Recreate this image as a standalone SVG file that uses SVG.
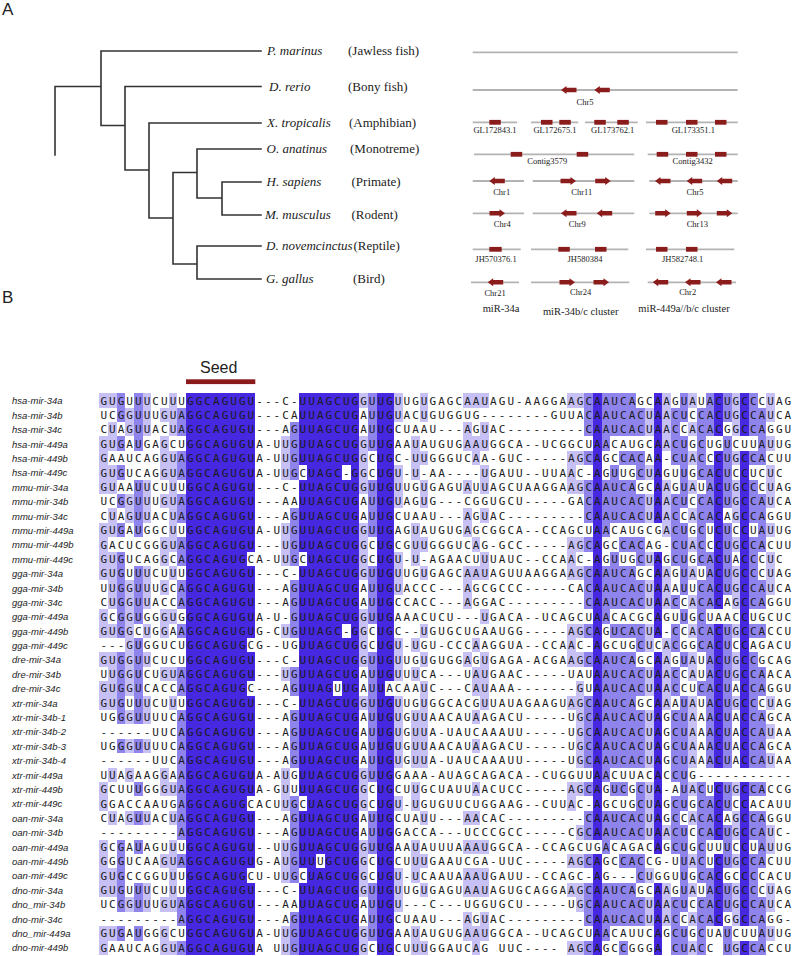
<svg xmlns="http://www.w3.org/2000/svg" xmlns:xlink="http://www.w3.org/1999/xlink" width="793" height="956" viewBox="0 0 793 956">
<style>
.pl{font-family:"Liberation Sans",Arial,sans-serif;font-size:17px;fill:#222}
.t{font-family:"Liberation Serif","Times New Roman",serif;fill:#222}
.sp{font-style:italic;font-size:13px}
.gr{font-size:13px}
.gl{font-size:8.5px;text-anchor:middle}
.bl{font-size:10.5px;text-anchor:middle}
.trk{stroke:#b3b3b3;stroke-width:1.8;fill:none}
.red{fill:#8b1c1c}
.br{stroke:#333;stroke-width:1.6;fill:none;stroke-linecap:square}
.lab{font-family:"Liberation Sans",Arial,sans-serif;font-style:italic;font-size:9.5px;fill:#222}
.seq{font-family:"DejaVu Sans Mono",monospace;font-size:11px;letter-spacing:2.038px;fill:#1c1c1c}
.D{fill:#4528df}.M{fill:#8f84ec}.L{fill:#c6c0f5}
</style>
<defs>
<path id="al" class="red" d="M0 0L5.5-4V-2.3H15.5V2.3H5.5V4Z"/>
<path id="ar" class="red" d="M0 0L-5.5-4V-2.3H-15.5V2.3H-5.5V4Z"/>
</defs>
<rect width="793" height="956" fill="#fff"/>
<text class="pl" x="2" y="15">A</text>
<text class="pl" x="2" y="303">B</text>

<g id="tree-connectors">
<path class="br" d="M55 155V86.5H101M101 51V125.5M101 51H261M101 125.5H125M125 86.5V170M125 86.5H261M125 170H149M149 123V218M149 123H261M149 218H173M173 172.5V264M173 172.5H197M197 149V198M197 149H261M197 198H222M222 182V215M222 182H261M222 215H261M173 264H197M197 246V279M197 246H261M197 279H261"/>
</g>
<g id="sp-pmarinus"><text class="t sp" x="267" y="55">P. marinus</text><text class="t gr" x="348" y="55">(Jawless fish)</text></g>
<g id="sp-drerio"><text class="t sp" x="269" y="90.5">D. rerio</text><text class="t gr" x="348" y="90.5">(Bony fish)</text></g>
<g id="sp-xtropicalis"><text class="t sp" x="267" y="127">X. tropicalis</text><text class="t gr" x="349" y="127">(Amphibian)</text></g>
<g id="sp-oanatinus"><text class="t sp" x="266.5" y="153">O. anatinus</text><text class="t gr" x="350" y="153">(Monotreme)</text></g>
<g id="sp-hsapiens"><text class="t sp" x="266.5" y="186">H. sapiens</text><text class="t gr" x="351.5" y="186">(Primate)</text></g>
<g id="sp-mmusculus"><text class="t sp" x="265" y="219">M. musculus</text><text class="t gr" x="351.5" y="219">(Rodent)</text></g>
<g id="sp-dnovemcinctus"><text class="t sp" x="266" y="250">D. novemcinctus</text><text class="t gr" x="353.5" y="250">(Reptile)</text></g>
<g id="sp-ggallus"><text class="t sp" x="266" y="283">G. gallus</text><text class="t gr" x="353" y="283">(Bird)</text></g>

<g id="track-pmarinus"><path class="trk" d="M472.7 52.3H737.7"/></g>
<g id="track-drerio"><path class="trk" d="M472.7 90H737.7"/>
<use href="#al" x="561" y="90"/><use href="#al" x="594.3" y="90"/>
<text class="t gl" x="585" y="104.7">Chr5</text></g>
<g id="track-xtropicalis"><path class="trk" d="M472.7 122.3H517.3M531 122.3H578.3M585 122.3H637.7M646 122.3H737.7"/>
<rect class="red" x="489.3" y="119.9" width="11.5" height="4.8"/><rect class="red" x="541" y="119.9" width="11.5" height="4.8"/><rect class="red" x="559.3" y="119.9" width="11.5" height="4.8"/><rect class="red" x="594.3" y="119.9" width="11.5" height="4.8"/><rect class="red" x="617.3" y="119.9" width="11.5" height="4.8"/><rect class="red" x="656" y="119.9" width="11.5" height="4.8"/><rect class="red" x="686" y="119.9" width="11.5" height="4.8"/><rect class="red" x="715" y="119.9" width="11.5" height="4.8"/>
<text class="t gl" x="495" y="133">GL172843.1</text><text class="t gl" x="555" y="133">GL172675.1</text><text class="t gl" x="612.7" y="133">GL173762.1</text><text class="t gl" x="693.3" y="133">GL173351.1</text></g>
<g id="track-oanatinus"><path class="trk" d="M474 154.3H634.3M647.7 154.3H737.7"/>
<rect class="red" x="510.7" y="151.9" width="11.5" height="4.8"/><rect class="red" x="576.7" y="151.9" width="11.5" height="4.8"/><rect class="red" x="656.7" y="151.9" width="11.5" height="4.8"/><rect class="red" x="686" y="151.9" width="11.5" height="4.8"/><rect class="red" x="715" y="151.9" width="11.5" height="4.8"/>
<text class="t gl" x="547.3" y="164">Contig3579</text><text class="t gl" x="692.7" y="164">Contig3432</text></g>
<g id="track-hsapiens"><path class="trk" d="M472.7 181H524M532.7 181H634.3M649.3 181H737.7"/>
<use href="#al" x="489.3" y="181"/><use href="#ar" x="576" y="181"/><use href="#ar" x="610.7" y="181"/><use href="#al" x="655" y="181"/><use href="#al" x="686.7" y="181"/><use href="#al" x="716.7" y="181"/>
<text class="t gl" x="501.7" y="194.7">Chr1</text><text class="t gl" x="581.7" y="194.7">Chr11</text><text class="t gl" x="695" y="194.7">Chr5</text></g>
<g id="track-mmusculus"><path class="trk" d="M472.7 213.3H524M532.7 213.3H634.3M649.3 213.3H737.7"/>
<use href="#ar" x="505" y="213.3"/><use href="#al" x="561" y="213.3"/><use href="#al" x="596.7" y="213.3"/><use href="#ar" x="670.7" y="213.3"/><use href="#ar" x="702.3" y="213.3"/><use href="#ar" x="732.3" y="213.3"/>
<text class="t gl" x="502.3" y="227">Chr4</text><text class="t gl" x="577.3" y="227">Chr9</text><text class="t gl" x="697.3" y="227">Chr13</text></g>
<g id="track-dnovemcinctus"><path class="trk" d="M472.7 249.3H520.7M531 249.3H628.3M646 249.3H734.3"/>
<rect class="red" x="489.3" y="246.9" width="12.4" height="4.8"/><rect class="red" x="558.3" y="246.9" width="11.5" height="4.8"/><rect class="red" x="595" y="246.9" width="11.5" height="4.8"/><rect class="red" x="656" y="246.9" width="11.5" height="4.8"/><rect class="red" x="686" y="246.9" width="11.5" height="4.8"/>
<text class="t gl" x="496" y="262.3">JH570376.1</text><text class="t gl" x="585" y="262.3">JH580384</text><text class="t gl" x="682.7" y="262.3">JH582748.1</text></g>
<g id="track-ggallus"><path class="trk" d="M471 282.3H519M531 282.3H629.3M647.7 282.3H736"/>
<use href="#al" x="487.7" y="282.3"/><use href="#ar" x="575" y="282.3"/><use href="#ar" x="609" y="282.3"/><use href="#al" x="652.7" y="282.3"/><use href="#al" x="685" y="282.3"/><use href="#al" x="716" y="282.3"/>
<text class="t gl" x="495" y="296.3">Chr21</text><text class="t gl" x="580.7" y="295">Chr24</text><text class="t gl" x="687.7" y="294.7">Chr2</text></g>
<g id="cluster-labels">
<text class="t bl" x="501" y="311.5">miR-34a</text><text class="t bl" x="580.7" y="314.5">miR-34b/c cluster</text><text class="t bl" x="684" y="311.5">miR-449a//b/c cluster</text></g>

<g id="seed"><text x="200" y="373.3" font-family="Liberation Sans, Arial, sans-serif" font-size="16" fill="#222">Seed</text>
<rect x="186" y="379.3" width="69.3" height="4.8" fill="#8b1a1a"/></g>

<g id="shading" transform="translate(99.4 393.3) scale(8.66 14.4)" shape-rendering="crispEdges">
<path class="L" d="M0 0h1v1h-1zM0 3h1v4h-1zM0 9h1v4h-1zM0 15h1v2h-1zM0 18h1v1h-1zM0 20h1v2h-1zM0 27h1v2h-1zM0 31h1v4h-1zM0 37h1v2h-1z
M1 0h1v1h-1zM1 2h1v2h-1zM1 5h1v2h-1zM1 8h1v2h-1zM1 11h1v4h-1zM1 16h1v1h-1zM1 18h1v4h-1zM1 26h1v1h-1zM1 29h1v1h-1zM1 33h1v2h-1zM1 37h1v1h-1z
M3 1h1v2h-1zM3 7h1v2h-1zM3 13h1v8h-1zM3 22h1v1h-1zM3 24h1v1h-1zM3 26h1v1h-1zM3 29h1v1h-1zM3 35h1v1h-1z
M5 0h1v3h-1zM5 6h1v3h-1zM5 12h1v3h-1zM5 16h1v1h-1zM5 18h1v1h-1zM5 21h1v2h-1zM5 24h1v1h-1zM5 29h1v1h-1zM5 34h1v2h-1z
M7 1h1v1h-1zM7 3h1v3h-1zM7 7h1v1h-1zM7 10h1v2h-1zM7 13h1v1h-1zM7 15h1v2h-1zM7 19h1v1h-1zM7 26h1v2h-1zM7 32h1v1h-1zM7 35h1v1h-1zM7 37h1v2h-1z
M8 0h1v3h-1zM8 4h1v7h-1zM8 12h1v1h-1zM8 15h1v1h-1zM8 19h1v1h-1zM8 21h1v1h-1zM8 27h1v1h-1zM8 29h1v1h-1zM8 31h1v5h-1zM8 38h1v1h-1z
M21 3h1v3h-1zM21 9h1v3h-1zM21 16h1v1h-1zM21 19h1v1h-1zM21 26h1v3h-1zM21 31h1v3h-1zM21 37h1v2h-1z
M30 0h1v1h-1zM30 3h1v4h-1zM30 9h1v4h-1zM30 15h1v4h-1zM30 21h1v1h-1zM30 26h1v3h-1zM30 31h1v4h-1zM30 37h1v2h-1z
M34 0h1v2h-1zM34 5h1v3h-1zM34 11h1v3h-1zM34 17h1v3h-1zM34 21h1v5h-1zM34 28h1v1h-1zM34 33h1v3h-1z
M36 3h1v3h-1zM36 9h1v3h-1zM36 17h1v1h-1zM36 19h1v1h-1zM36 22h1v4h-1zM36 27h1v2h-1zM36 31h1v3h-1zM36 37h1v2h-1z
M37 0h1v2h-1zM37 4h1v1h-1zM37 6h1v2h-1zM37 10h1v1h-1zM37 12h1v1h-1zM37 16h1v1h-1zM37 18h1v1h-1zM37 20h1v6h-1zM37 29h1v1h-1zM37 32h1v1h-1zM37 34h1v1h-1zM37 38h1v1h-1z
M42 0h1v1h-1zM42 2h1v2h-1zM42 6h1v1h-1zM42 8h1v2h-1zM42 12h1v3h-1zM42 18h1v1h-1zM42 29h1v1h-1zM42 31h1v1h-1zM42 33h1v2h-1zM42 36h1v2h-1z
M43 0h1v1h-1zM43 3h1v2h-1zM43 10h1v1h-1zM43 12h1v1h-1zM43 17h1v1h-1zM43 19h1v2h-1zM43 22h1v1h-1zM43 24h1v1h-1zM43 27h1v1h-1zM43 29h1v1h-1zM43 31h1v1h-1zM43 33h1v2h-1zM43 37h1v2h-1z
M44 0h1v1h-1zM44 2h1v2h-1zM44 5h1v2h-1zM44 8h1v1h-1zM44 11h1v2h-1zM44 15h1v1h-1zM44 18h1v4h-1zM44 31h1v1h-1zM44 33h1v2h-1zM44 36h1v2h-1z
M54 0h1v1h-1zM54 4h1v3h-1zM54 10h1v3h-1zM54 16h1v3h-1zM54 21h1v1h-1zM54 27h1v2h-1zM54 32h1v1h-1zM54 34h1v1h-1zM54 38h1v1h-1z
M55 0h1v1h-1zM55 4h1v1h-1zM55 6h1v1h-1zM55 10h1v1h-1zM55 12h1v1h-1zM55 16h1v1h-1zM55 18h1v1h-1zM55 20h1v6h-1zM55 27h1v1h-1zM55 30h1v1h-1zM55 32h1v1h-1zM55 34h1v2h-1zM55 38h1v1h-1z
M63 1h1v2h-1zM63 5h1v1h-1zM63 7h1v2h-1zM63 11h1v1h-1zM63 13h1v2h-1zM63 16h1v2h-1zM63 19h1v2h-1zM63 22h1v4h-1zM63 27h1v4h-1zM63 33h1v1h-1zM63 35h1v2h-1z
M65 0h1v4h-1zM65 6h1v4h-1zM65 12h1v3h-1zM65 17h1v5h-1zM65 30h1v1h-1zM65 34h1v3h-1z
M68 0h1v1h-1zM68 2h1v1h-1zM68 4h1v1h-1zM68 6h1v1h-1zM68 8h1v1h-1zM68 10h1v1h-1zM68 12h1v1h-1zM68 14h1v1h-1zM68 16h1v1h-1zM68 18h1v2h-1zM68 21h1v5h-1zM68 27h1v1h-1zM68 29h1v1h-1zM68 32h1v1h-1zM68 34h1v1h-1zM68 36h1v1h-1zM68 38h1v1h-1z
M73 0h1v3h-1zM73 4h1v1h-1zM73 6h1v3h-1zM73 10h1v1h-1zM73 12h1v3h-1zM73 16h1v1h-1zM73 18h1v2h-1zM73 21h1v1h-1zM73 27h1v1h-1zM73 29h1v2h-1zM73 32h1v1h-1zM73 34h1v3h-1zM73 38h1v1h-1z
M77 0h1v2h-1zM77 3h1v1h-1zM77 5h1v3h-1zM77 9h1v1h-1zM77 11h1v3h-1zM77 21h1v1h-1zM77 23h1v1h-1zM77 25h1v1h-1zM77 30h1v2h-1zM77 34h1v2h-1zM77 37h1v1h-1z"/>
<path class="M" d="M2 0h1v2h-1zM2 3h1v1h-1zM2 5h1v1h-1zM2 7h1v1h-1zM2 9h1v1h-1zM2 11h1v6h-1zM2 18h1v5h-1zM2 24h1v1h-1zM2 31h1v5h-1zM2 37h1v1h-1z
M4 0h1v4h-1zM4 6h1v4h-1zM4 12h1v4h-1zM4 17h1v6h-1zM4 24h1v1h-1zM4 27h1v1h-1zM4 29h1v1h-1zM4 31h1v1h-1zM4 34h1v2h-1zM4 37h1v1h-1z
M9 1h1v2h-1zM9 4h1v2h-1zM9 7h1v2h-1zM9 10h1v2h-1zM9 13h1v2h-1zM9 16h1v1h-1zM9 19h1v2h-1zM9 22h1v9h-1zM9 32h1v1h-1zM9 35h1v2h-1zM9 38h1v1h-1z
M22 2h1v4h-1zM22 8h1v4h-1zM22 13h1v4h-1zM22 19h1v2h-1zM22 22h1v4h-1zM22 28h1v6h-1zM22 36h1v3h-1z
M31 0h1v4h-1zM31 6h1v4h-1zM31 12h1v4h-1zM31 18h1v9h-1zM31 29h1v3h-1zM31 34h1v4h-1z
M56 0h1v3h-1zM56 4h1v1h-1zM56 6h1v3h-1zM56 10h1v1h-1zM56 12h1v3h-1zM56 16h1v1h-1zM56 18h1v1h-1zM56 21h1v5h-1zM56 27h1v1h-1zM56 29h1v2h-1zM56 32h1v1h-1zM56 34h1v3h-1zM56 38h1v1h-1z
M58 0h1v4h-1zM58 6h1v4h-1zM58 12h1v4h-1zM58 18h1v9h-1zM58 29h1v3h-1zM58 34h1v4h-1z
M59 0h1v3h-1zM59 5h1v4h-1zM59 11h1v4h-1zM59 16h1v1h-1zM59 18h1v8h-1zM59 27h1v1h-1zM59 29h1v2h-1zM59 34h1v3h-1z
M60 0h1v3h-1zM60 4h1v1h-1zM60 6h1v3h-1zM60 10h1v1h-1zM60 12h1v3h-1zM60 16h1v1h-1zM60 18h1v8h-1zM60 27h1v1h-1zM60 29h1v2h-1zM60 32h1v1h-1zM60 34h1v3h-1zM60 38h1v1h-1z
M61 0h1v3h-1zM61 4h1v1h-1zM61 6h1v3h-1zM61 10h1v1h-1zM61 12h1v3h-1zM61 16h1v1h-1zM61 18h1v8h-1zM61 29h1v2h-1zM61 32h1v1h-1zM61 34h1v3h-1z
M62 1h1v2h-1zM62 4h1v2h-1zM62 7h1v2h-1zM62 10h1v2h-1zM62 13h1v2h-1zM62 16h1v2h-1zM62 19h1v2h-1zM62 22h1v4h-1zM62 27h1v4h-1zM62 32h1v2h-1zM62 35h1v2h-1z
M66 1h1v4h-1zM66 7h1v5h-1zM66 14h1v1h-1zM66 16h1v2h-1zM66 19h1v2h-1zM66 22h1v5h-1zM66 28h1v4h-1zM66 35h1v4h-1z
M67 0h1v2h-1zM67 3h1v5h-1zM67 9h1v5h-1zM67 15h1v1h-1zM67 18h1v1h-1zM67 21h1v8h-1zM67 30h1v6h-1zM67 37h1v2h-1z
M69 1h1v5h-1zM69 7h1v5h-1zM69 13h1v5h-1zM69 20h1v1h-1zM69 27h1v7h-1zM69 35h1v4h-1z
M70 0h1v3h-1zM70 5h1v4h-1zM70 11h1v4h-1zM70 16h1v10h-1zM70 28h1v3h-1zM70 33h1v4h-1z
M72 0h1v2h-1zM72 3h1v5h-1zM72 9h1v5h-1zM72 16h1v10h-1zM72 27h1v2h-1zM72 30h1v3h-1zM72 34h1v2h-1zM72 37h1v2h-1z
M75 0h1v3h-1zM75 4h1v1h-1zM75 6h1v3h-1zM75 10h1v5h-1zM75 16h1v1h-1zM75 18h1v8h-1zM75 27h1v1h-1zM75 29h1v2h-1zM75 32h1v5h-1zM75 38h1v1h-1z
M76 1h1v4h-1zM76 7h1v4h-1zM76 13h1v2h-1zM76 16h1v1h-1zM76 19h1v2h-1zM76 22h1v4h-1zM76 27h1v1h-1zM76 29h1v4h-1zM76 35h1v4h-1z"/>
<path class="D" d="M10 0h7v39h-7z
M17 0h1v11h-1zM17 12h1v5h-1zM17 18h1v2h-1zM17 21h1v7h-1zM17 29h1v4h-1zM17 34h1v5h-1z
M23 0h1v5h-1zM23 6h1v5h-1zM23 12h1v16h-1zM23 29h1v4h-1zM23 34h1v5h-1z
M24 0h1v39h-1zM25 0h1v32h-1zM25 33h1v6h-1zM26 0h1v39h-1zM27 0h1v20h-1zM27 21h1v18h-1z
M28 0h1v5h-1zM28 6h1v10h-1zM28 17h1v22h-1zM29 0h1v39h-1zM32 0h1v39h-1zM33 0h1v20h-1zM33 21h1v18h-1z
M57 0h1v31h-1zM57 32h1v7h-1z
M64 0h1v9h-1zM64 11h1v6h-1zM64 18h1v14h-1zM64 34h1v5h-1z
M71 0h1v3h-1zM71 4h1v11h-1zM71 16h1v10h-1zM71 27h1v4h-1zM71 32h1v5h-1z
M74 0h1v3h-1zM74 4h1v22h-1zM74 27h1v10h-1zM74 38h1v1h-1z"/>
</g>

<g id="row-labels">
<text class="lab" x="12" y="404.3">hsa-mir-34a<tspan x="12" dy="14.4">hsa-mir-34b</tspan><tspan x="12" dy="14.4">hsa-mir-34c</tspan><tspan x="12" dy="14.4">hsa-mir-449a</tspan><tspan x="12" dy="14.4">hsa-mir-449b</tspan><tspan x="12" dy="14.4">hsa-mir-449c</tspan><tspan x="12" dy="14.4">mmu-mir-34a</tspan><tspan x="12" dy="14.4">mmu-mir-34b</tspan><tspan x="12" dy="14.4">mmu-mir-34c</tspan><tspan x="12" dy="14.4">mmu-mir-449a</tspan><tspan x="12" dy="14.4">mmu-mir-449b</tspan><tspan x="12" dy="14.4">mmu-mir-449c</tspan><tspan x="12" dy="14.4">gga-mir-34a</tspan><tspan x="12" dy="14.4">gga-mir-34b</tspan><tspan x="12" dy="14.4">gga-mir-34c</tspan><tspan x="12" dy="14.4">gga-mir-449a</tspan><tspan x="12" dy="14.4">gga-mir-449b</tspan><tspan x="12" dy="14.4">gga-mir-449c</tspan><tspan x="12" dy="14.4">dre-mir-34a</tspan><tspan x="12" dy="14.4">dre-mir-34b</tspan><tspan x="12" dy="14.4">dre-mir-34c</tspan><tspan x="12" dy="14.4">xtr-mir-34a</tspan><tspan x="12" dy="14.4">xtr-mir-34b-1</tspan><tspan x="12" dy="14.4">xtr-mir-34b-2</tspan><tspan x="12" dy="14.4">xtr-mir-34b-3</tspan><tspan x="12" dy="14.4">xtr-mir-34b-4</tspan><tspan x="12" dy="14.4">xtr-mir-449a</tspan><tspan x="12" dy="14.4">xtr-mir-449b</tspan><tspan x="12" dy="14.4">xtr-mir-449c</tspan><tspan x="12" dy="14.4">oan-mir-34a</tspan><tspan x="12" dy="14.4">oan-mir-34b</tspan><tspan x="12" dy="14.4">oan-mir-449a</tspan><tspan x="12" dy="14.4">oan-mir-449b</tspan><tspan x="12" dy="14.4">oan-mir-449c</tspan><tspan x="12" dy="14.4">dno-mir-34a</tspan><tspan x="12" dy="14.4">dno_mir-34b</tspan><tspan x="12" dy="14.4">dno-mir-34c</tspan><tspan x="12" dy="14.4">dno_mir-449a</tspan><tspan x="12" dy="14.4">dno-mir-449b</tspan></text>
</g>

<g id="sequences">
<text class="seq" x="100.4" y="404.5">GUGUUUCUUUGGCAGUGU---C-UUAGCUGGUUGUUGUGAGCAAUAGU-AAGGAAGCAAUCAGCAAGUAUACUGCCCUAG<tspan x="100.4" dy="14.4">UCGGUUUGUAGGCAGUGU---CAUUAGCUGAUUGUACUGUGGUG--------GUUACAAUCACUAACUCCACUGCCAUCA</tspan><tspan x="100.4" dy="14.4">CUAGUUACUAGGCAGUGU---AGUUAGCUGAUUGCUAAU---AGUAC---------CAAUCACUAACCACACGGCCAGGU</tspan><tspan x="100.4" dy="14.4">GUGAUGAGCUGGCAGUGUA-UUGUUAGCUGGUUGAAUAUGUGAAUGGCA--UCGGCUAACAUGCAACUGCUGUCUUAUUG</tspan><tspan x="100.4" dy="14.4">GAAUCAGGUAGGCAGUGUA-UUGUUAGCUGGCUGC-UUGGGUCAA-GUC-----AGCAGCCACAA-CUACCCUGCCACUU</tspan><tspan x="100.4" dy="14.4">GUGUCAGGUAGGCAGUGUA-UUGCUAGC-GGCUGU-U-AA----UGAUU--UUAAC-AGUUGCUAGUUGCACUCCUCUC</tspan><tspan x="100.4" dy="14.4">GUAAUUCUUUGGCAGUGU---C-UUAGCUGGUUGUUGUGAGUAUUAGCUAAGGAAGCAAUCAGCAAGUAUACUGCCCUAG</tspan><tspan x="100.4" dy="14.4">UCGGUUUGUAGGCAGUGU---AAUUAGCUGAUUGUAGUG---CGGUGCU-----GACAAUCACUAACUCCACUGCCAUCA</tspan><tspan x="100.4" dy="14.4">CUAGUUACUAGGCAGUGU---AGUUAGCUGAUUGCUAAU---AGUAC---------CAAUCACUAACCACACAGCCAGGU</tspan><tspan x="100.4" dy="14.4">GUGAUGGCUUGGCAGUGUA-UUGUUAGCUGGUUGAGUAUGUGAGCGGCA--CCAGCUAACAUGCGACUGCUCUCCUAUUG</tspan><tspan x="100.4" dy="14.4">GACUCGGGUAGGCAGUGU---UGUUAGCUGGCUGCGUUGGGUCAG-GCC-----AGCAGCCACAG-CUACCCUGCCACUU</tspan><tspan x="100.4" dy="14.4">GUGUCAGGCAGGCAGUGCA-UUGCUAGCUGGCUGU-U-AGAACUUUAUC--CCAAC-AGUUGCUAGCUGCACUACCCUC</tspan><tspan x="100.4" dy="14.4">GUGUUUCUUUGGCAGUGU---C-UUAGCUGGUUGUUGUGAGCAAUAGUUAAGGAAGCAAUCAGCAAGUAUACUGCCCUAG</tspan><tspan x="100.4" dy="14.4">UUGGUUUGCAGGCAGUGU---AGUUAGCUGAUUGUACCC---AGCGCCC-----CACAAUCACUAAAUUCACUGCCAUCA</tspan><tspan x="100.4" dy="14.4">CUGGUUACCAGGCAGUGU---AGUUAGCUGAUUGCCACC---AGGAC---------CAAUCACUAACCACACAGCCAGGU</tspan><tspan x="100.4" dy="14.4">GCGGUGGGUGGGCAGUGUA-U-GUUAGCUGGUUGAAACUCU---UGACA--UCAGCUAACACGCAGUUGCUAACCUGCUC</tspan><tspan x="100.4" dy="14.4">GUGGCUGGAAGGCAGUGUG-CUGUUAGC-GGCUGC--UGUGCUGAAUGG-----AGCAGUCACUA-CCACACUGCCACCU</tspan><tspan x="100.4" dy="14.4">---GUGGUCUGGCAGUGCG--UGUUAGCUGGCUGU-UGU-CCCAAGGUA--CCAAC-AGCUGCUCACGGCACUCCAGACU</tspan><tspan x="100.4" dy="14.4">GUGGUUCUCUGGCAGUGU---C-UUAGCUGGUUGUUGUGUGGAGUGAGA-ACGAAGCAAUCAGCAAGUAUACUGCCGCAG</tspan><tspan x="100.4" dy="14.4">UUGGUCUGUAGGCAGUGU---UGUUAGCUGAUUGUUUCA---UAUGAAC-----UAUAAUCACUAACCAUACUGCCAACA</tspan><tspan x="100.4" dy="14.4">GUGGUCACCAGGCAGUGC---AGUUAGUUGAUUACAAUC---CAUAAA-------GUAAUCACUAACCUCACUACCAGGU</tspan><tspan x="100.4" dy="14.4">GUGUUUCUUUGGCAGUGU---C-UUAGCUGGUUGUUGUGGCACGUUAUAGAAGUAGCAAUCAGCAAAUAUACUGCCCUAG</tspan><tspan x="100.4" dy="14.4">UGGGUUUUCAGGCAGUGU---AGUUAGCUGAUUGUGUUAACAUAAGACU-----UGCAAUCACUAGCUAAACUACCAGCA</tspan><tspan x="100.4" dy="14.4">------UUCAGGCAGUGU---AGUUAGCUGAUUGUGUUA-UAUCAAAUU-----UGCAAUCACUAGCUAAACUACCAUAA</tspan><tspan x="100.4" dy="14.4">UGGGUUUUCAGGCAGUGU---AGUUAGCUGAUUGUGUUAACAUAAGACU-----UGCAAUCACUAGCUAAACUACCAGCA</tspan><tspan x="100.4" dy="14.4">------UUCAGGCAGUGU---AGUUAGCUGAUUGUGUUA-UAUCAAAUU-----UGCAAUCACUAGCUAAACUACCAUAA</tspan><tspan x="100.4" dy="14.4">UUAGAAGGAAGGCAGUGUA-AUGUUAGCUGGUUGGAAA-AUAGCAGACA--CUGGUUAACUUACACCUG-----------</tspan><tspan x="100.4" dy="14.4">GCUUUGGGUAGGCAGUGUA-GUUUUAGCUGGCUGCUUGCUAUUAACUCC-----AGCAGUCGCUA-AUACUCUGCCACCG</tspan><tspan x="100.4" dy="14.4">GGACCAAUGAGGCAGUGCACUUGCUAGCUGGCUGU-UGUGUUCUGGAAG--CUUAC-AGCUGCUAGCUGCACUCCACAUU</tspan><tspan x="100.4" dy="14.4">CUAGUUACUAGGCAGUGU---AGUUAGCUGAUUGCUAUU---AACAC---------CAAUCACUAGCCACACAGCCAGGU</tspan><tspan x="100.4" dy="14.4">---------AGGCAGUGU---AGUUAGCUGAUUGGACCA---UCCCGCC-----CGCAAUCACUAACUCCACUGCCAUC-</tspan><tspan x="100.4" dy="14.4">GCGAUAGUUUGGCAGUGU--UUGUUAGCUGGUUGAAUAUUUAAAUGGCA--CCAGCUGACAGACAGCUGCUUUCCUAUUG</tspan><tspan x="100.4" dy="14.4">GGGUCAAGUAGGCAGUGUG-AUGUUUGCUGGCUGCUUUGAAUCGA-UUC-----AGCAGCCACCG-UUACUCUGCCACUU</tspan><tspan x="100.4" dy="14.4">GUGCCGGUUUGGCAGUGCU-UUGCUAGCUGGCUGU-UCAAUAAAUGAUU--CCAGC-AG---CUGGUUGCACGCCCCACU</tspan><tspan x="100.4" dy="14.4">GUGUUUCUUUGGCAGUGU---C-UUAGCUGGUUGUUGUGAGUAAUAGUGCAGGAAGCAAUCAGCAAGUAUACUGCCCUAG</tspan><tspan x="100.4" dy="14.4">UCGGUUUGUAGGCAGUGU---AAUUAGCUGAUUGU---C---UGGUGCU-----UGCAAUCACUAACUCCACUGCCAUCA</tspan><tspan x="100.4" dy="14.4">---------AGGCAGUGU---AGUUAGCUGAUUGCUAAU---AGUAC---------CAAUCACUAACCACACGGCCAGG-</tspan><tspan x="100.4" dy="14.4">GUGAUGGGCUGGCAGUGUA-UUGUUAGCUGGUUGAAUAUGUGAAUGGCA--UCAGCUAACAUUCAGCUGCUAUCUUAUUG</tspan><tspan x="100.4" dy="14.4">GAAUCAGGUAGGCAGUGUA&#160;UUGUUAGCUGGCUGCUUUGGAUCAG&#160;UUC----&#160;AGCAGCCGGGA&#160;CUACC&#160;UGCCACCU</tspan></text>
</g>
</svg>
